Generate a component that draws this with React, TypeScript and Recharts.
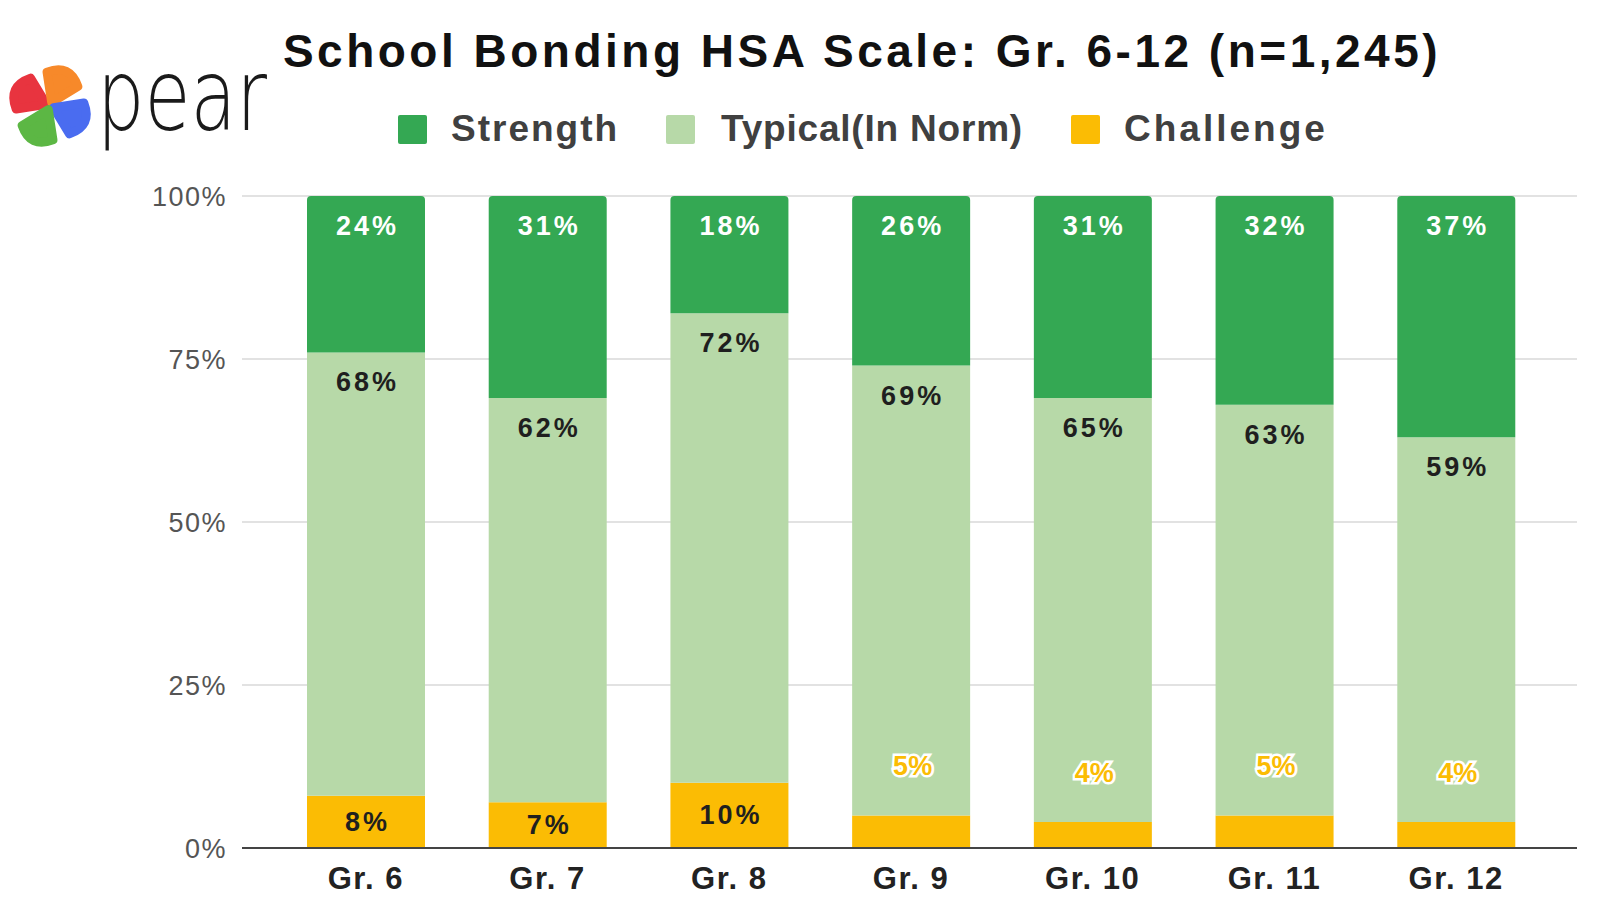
import React from "react";
import { BarChart, Bar, XAxis, YAxis, CartesianGrid } from "recharts";

const categories = ["Gr. 6", "Gr. 7", "Gr. 8", "Gr. 9", "Gr. 10", "Gr. 11", "Gr. 12"];
const strength = [24, 31, 18, 26, 31, 32, 37];
const typical = [68, 62, 72, 69, 65, 63, 59];
const challenge = [8, 7, 10, 5, 4, 5, 4];
const yTicks = [0, 25, 50, 75, 100];

const seriesNames = ["Strength", "Typical(In Norm)", "Challenge"];
const seriesColors = ["#34A853", "#B7D9A8", "#FBBC04"];

const data = categories.map((c, i) => ({
  name: c,
  strength: strength[i],
  typical: typical[i],
  challenge: challenge[i],
}));

const FONT = "'Liberation Sans', Arial, sans-serif";
const LABEL_SIZE = 27;
const LABEL_SPACING = 3;

const StrengthLabel = (p: any) => (
  <text
    x={p.x + p.width / 2 + LABEL_SPACING / 2}
    y={p.y + 30}
    textAnchor="middle"
    dominantBaseline="central"
    fill="#ffffff"
    fontSize={LABEL_SIZE}
    fontWeight="bold"
    fontFamily={FONT}
    letterSpacing={LABEL_SPACING}
  >
    {strength[p.index]}%
  </text>
);

const TypicalLabel = (p: any) => (
  <text
    x={p.x + p.width / 2 + LABEL_SPACING / 2}
    y={p.y + 30}
    textAnchor="middle"
    dominantBaseline="central"
    fill="#1f1f1f"
    fontSize={LABEL_SIZE}
    fontWeight="bold"
    fontFamily={FONT}
    letterSpacing={LABEL_SPACING}
  >
    {typical[p.index]}%
  </text>
);

const ChallengeLabel = (p: any) => {
  const v = challenge[p.index];
  const inside = v >= 6;
  return (
    <text
      x={p.x + p.width / 2 + LABEL_SPACING / 2}
      y={inside ? p.y + p.height / 2 : p.y - 49}
      textAnchor="middle"
      dominantBaseline="central"
      fill={inside ? "#1f1f1f" : "#FBBC04"}
      stroke={inside ? "none" : "#ffffff"}
      strokeWidth={inside ? 0 : 5}
      paintOrder="stroke"
      fontSize={LABEL_SIZE}
      fontWeight="bold"
      fontFamily={FONT}
      letterSpacing={inside ? LABEL_SPACING : 0}
    >
      {v}%
    </text>
  );
};

const Logo = () => {
  const cx = 50;
  const cy = 106;
  const angles = [-155, -65, 25, 115];
  const colors = ["#E8343F", "#F7892A", "#4A6CF0", "#5CB744"];
  const rad = (d: number) => (d * Math.PI) / 180;
  const pt = (r: number, a: number) => `${cx + r * Math.cos(rad(a))},${cy + r * Math.sin(rad(a))}`;
  return (
    <svg width={420} height={180} style={{ position: "absolute", left: 0, top: 0 }}>
      {angles.map((a, i) => (
        <path
          key={i}
          d={`M ${pt(4, a)} L ${pt(34, a + 30)} Q ${pt(47, a)} ${pt(34, a - 30)} Z`}
          fill={colors[i]}
          stroke={colors[i]}
          strokeWidth={9}
          strokeLinejoin="round"
        />
      ))}
      <text
        x={97}
        y={130}
        fontFamily="'DejaVu Sans', sans-serif"
        fontWeight={200}
        fontSize={100}
        fill="#1a1a1a"
        textLength={170}
        lengthAdjust="spacingAndGlyphs"
      >
        pear
      </text>
    </svg>
  );
};

const legendItems = [
  { sq: 398, tx: 451, ls: 2 },
  { sq: 666, tx: 721, ls: 0.8 },
  { sq: 1071, tx: 1124, ls: 3 },
];

export default function App() {
  return (
    <div
      style={{
        position: "absolute",
        left: 0,
        top: 0,
        width: 1600,
        height: 900,
        background: "#ffffff",
        overflow: "hidden",
        fontFamily: FONT,
      }}
    >
      <Logo />
      <div
        style={{
          position: "absolute",
          left: 0,
          width: 1724,
          top: 22,
          textAlign: "center",
          fontSize: 46,
          fontWeight: "bold",
          letterSpacing: 3.5,
          color: "#111",
          lineHeight: "58px",
          whiteSpace: "nowrap",
        }}
      >
        School Bonding HSA Scale: Gr. 6-12 (n=1,245)
      </div>
      {seriesNames.map((n, i) => (
        <React.Fragment key={n}>
          <div
            style={{
              position: "absolute",
              left: legendItems[i].sq,
              top: 115,
              width: 29,
              height: 29,
              background: seriesColors[i],
              borderRadius: 2,
            }}
          />
          <div
            style={{
              position: "absolute",
              left: legendItems[i].tx,
              top: 106,
              fontSize: 37,
              fontWeight: "bold",
              letterSpacing: legendItems[i].ls,
              color: "#404040",
              lineHeight: "46px",
              whiteSpace: "nowrap",
            }}
          >
            {n}
          </div>
        </React.Fragment>
      ))}
      <div style={{ position: "absolute", left: 0, top: 0 }}>
        <BarChart
          width={1600}
          height={900}
          data={data}
          margin={{ top: 196, right: 23, bottom: 0, left: 0 }}
          barSize={118}
        >
          <CartesianGrid vertical={false} stroke="#d9d9d9" strokeWidth={1.5} />
          <XAxis
            dataKey="name"
            height={52}
            padding={{ left: 33, right: 30 }}
            tickLine={false}
            axisLine={{ stroke: "#444", strokeWidth: 2 }}
            tickMargin={13}
            tick={{ fill: "#222", fontSize: 31, fontWeight: "bold", fontFamily: FONT, letterSpacing: 1.5 }}
            interval={0}
          />
          <YAxis
            width={242}
            domain={[0, 100]}
            ticks={yTicks}
            tickFormatter={(v: number) => `${v}%`}
            tickLine={false}
            axisLine={false}
            tickMargin={9}
            tick={{ fill: "#555", fontSize: 27, fontFamily: FONT, letterSpacing: 1.5 }}
          />
          <Bar
            dataKey="challenge"
            stackId="a"
            fill={seriesColors[2]}
            isAnimationActive={false}
            label={ChallengeLabel}
          />
          <Bar
            dataKey="typical"
            stackId="a"
            fill={seriesColors[1]}
            isAnimationActive={false}
            label={TypicalLabel}
          />
          <Bar
            dataKey="strength"
            stackId="a"
            fill={seriesColors[0]}
            radius={[4, 4, 0, 0]}
            isAnimationActive={false}
            label={StrengthLabel}
          />
        </BarChart>
      </div>
    </div>
  );
}
